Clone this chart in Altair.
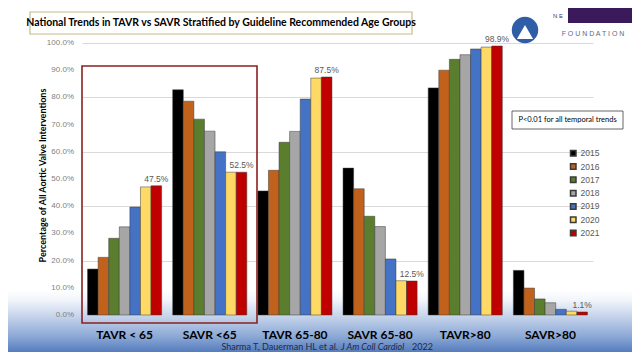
import altair as alt
import pandas as pd

categories = ["TAVR < 65", "SAVR <65", "TAVR 65-80", "SAVR 65-80", "TAVR>80", "SAVR>80"]
years = ["2015", "2016", "2017", "2018", "2019", "2020", "2021"]
tavr_lt65 = [16.9, 21.2, 28.2, 32.4, 39.7, 47.1, 47.5]
savr_lt65 = [82.8, 78.6, 72.0, 67.6, 60.0, 52.5, 52.5]
tavr_65_80 = [45.6, 53.2, 63.5, 67.5, 79.4, 87.1, 87.5]
savr_65_80 = [54.0, 46.4, 36.3, 32.5, 20.6, 12.6, 12.5]
tavr_gt80 = [83.5, 90.0, 94.0, 95.7, 97.8, 98.5, 98.9]
savr_gt80 = [16.4, 9.9, 5.9, 4.5, 2.1, 1.4, 1.1]
y_ticks = [0, 10, 20, 30, 40, 50, 60, 70, 80, 90, 100]
year_colors = ["#000000", "#C0621C", "#5A7D2E", "#A6A6A6", "#4472C4", "#FFD966", "#C00000"]

title_text = "National Trends in TAVR vs SAVR Stratified by Guideline Recommended Age Groups"
y_title = "Percentage of All Aortic Valve Interventions"
p_note = "P<0.01 for all temporal trends"
cite_a = "Sharma T, Dauerman HL et al."
cite_b = "J Am Coll Cardiol"
cite_c = "2022"

series = [tavr_lt65, savr_lt65, tavr_65_80, savr_65_80, tavr_gt80, savr_gt80]
rows = []
for cat, vals in zip(categories, series):
    for yr, v in zip(years, vals):
        rows.append({"category": cat, "year": yr, "value": v})
df = pd.DataFrame(rows)
tick_df = pd.DataFrame({"value": y_ticks})

FONT = "Lato"
W, H = 511, 272
one = alt.Data(values=[{"k": 1}])

x_enc = alt.X(
    "category:N", sort=categories,
    scale=alt.Scale(paddingInner=0.13, paddingOuter=0.065),
    axis=alt.Axis(title=None, labelFont=FONT, labelFontWeight="bold", labelFontSize=12,
                  labelColor="black", labelPadding=14, ticks=False, domain=False,
                  grid=False, labelAngle=0, zindex=2),
)
y_scale = alt.Scale(domain=[0, 100], nice=False)
y_enc = alt.Y(
    "value:Q", scale=y_scale,
    axis=alt.Axis(title=y_title, values=y_ticks, labels=False,
                  ticks=False, domain=False,
                  gridColor="#D9D9D9", gridWidth=1,
                  titleFont=FONT, titleFontSize=9, titleFontWeight="bold", titleColor="black",
                  titleAngle=270, titleX=-40, titleY=132, titleAlign="center",
                  titleBaseline="middle"),
)

grad = alt.LinearGradient(
    gradient="linear", x1=0, x2=0, y1=0, y2=1,
    stops=[alt.GradientStop(color="#FFFFFF", offset=0),
           alt.GradientStop(color="#F2F5FB", offset=0.16),
           alt.GradientStop(color="#C3D2EA", offset=0.44),
           alt.GradientStop(color="#8AA7D5", offset=0.76),
           alt.GradientStop(color="#557CBD", offset=1)],
)
bg = alt.Chart(one).mark_rect(color=grad).encode(
    x=alt.value(-74), x2=alt.value(550), y=alt.value(247), y2=alt.value(309))

bars = alt.Chart(df).mark_bar(stroke="#3A3A3A", strokeWidth=0.5).encode(
    x=x_enc,
    xOffset=alt.XOffset("year:N", sort=years, scale=alt.Scale(paddingInner=0, paddingOuter=0)),
    y=y_enc,
    color=alt.Color("year:N", sort=years, scale=alt.Scale(domain=years, range=year_colors),
                    legend=alt.Legend(title=None, orient="none", legendX=487, legendY=106,
                                      symbolType="square", symbolSize=30, labelFontSize=8.5,
                                      labelColor="#595959", labelFont="Liberation Sans",
                                      rowPadding=1.3, labelOffset=3)),
)

tick_labels = alt.Chart(tick_df).transform_calculate(
    lab="format(datum.value/100, '.1%')"
).mark_text(align="right", baseline="middle", fontSize=8, color="#7F7F7F",
            font="Liberation Sans").encode(
    x=alt.value(-8), y=alt.Y("value:Q", scale=y_scale), text="lab:N")

labels = alt.Chart(df).transform_filter(alt.datum.year == "2021").transform_calculate(
    lab="format(datum.value, '.1f') + '%'"
).mark_text(dy=-7, fontSize=8.5, color="#595959", font="Liberation Sans").encode(
    x=alt.X("category:N", sort=categories),
    xOffset=alt.XOffset("year:N", sort=years),
    y="value:Q",
    text="lab:N",
)

highlight = alt.Chart(one).mark_rect(fill="transparent", stroke="#8B2020", strokeWidth=1.6).encode(
    x=alt.value(0), x2=alt.value(175), y=alt.value(23), y2=alt.value(280))

title_box = alt.Chart(one).mark_rect(fill="white", stroke="#C8B88A", strokeWidth=1.2).encode(
    x=alt.value(-52), x2=alt.value(330), y=alt.value(-31), y2=alt.value(-9))
title = alt.Chart(one).mark_text(text=title_text, font=FONT, fontWeight="bold", fontSize=10.5,
                                 color="black").encode(x=alt.value(139), y=alt.value(-20))

p_box = alt.Chart(one).mark_rect(fill="white", stroke="#404040", strokeWidth=0.8).encode(
    x=alt.value(430), x2=alt.value(541), y=alt.value(68), y2=alt.value(86))
p_txt = alt.Chart(one).mark_text(text=p_note, font=FONT, fontSize=7.5,
                                 color="black").encode(x=alt.value(485.5), y=alt.value(77))

CY = 304
c1 = alt.Chart(one).mark_text(text=cite_a, font=FONT, fontSize=9, color="#1F2A44",
                              align="right").encode(x=alt.value(256), y=alt.value(CY))
c2 = alt.Chart(one).mark_text(text=cite_b, font=FONT, fontSize=9, color="#1F2A44",
                              fontStyle="italic", align="left").encode(x=alt.value(259), y=alt.value(CY))
c3 = alt.Chart(one).mark_text(text=cite_c, font=FONT, fontSize=9, color="#1F2A44",
                              align="left").encode(x=alt.value(330), y=alt.value(CY))

purple = alt.Chart(one).mark_rect(color="#3B1A5C").encode(
    x=alt.value(486), x2=alt.value(560), y=alt.value(-40), y2=alt.value(-20))
logo = alt.Chart(one).mark_point(shape="circle", filled=True, size=700, color="#2F5DA6",
                                 opacity=1).encode(x=alt.value(443), y=alt.value(-13))
logo2 = alt.Chart(one).mark_point(shape="triangle-up", filled=True, size=260, color="white",
                                  opacity=1).encode(x=alt.value(443), y=alt.value(-11))
found = alt.Chart(one).mark_text(text="F O U N D A T I O N", font="Liberation Sans", fontSize=7,
                                 color="#5A6A8A").encode(x=alt.value(511), y=alt.value(-9))
ne = alt.Chart(one).mark_text(text="N E", font="Liberation Sans", fontSize=6,
                              color="#3A3A5A", align="left").encode(x=alt.value(471), y=alt.value(-27))

chart = alt.layer(
    bg, bars, tick_labels, labels, highlight, title_box, title, p_box, p_txt, c1, c2, c3,
    purple, logo, logo2, found, ne
).properties(
    width=W, height=H,
    padding={"left": 74, "top": 35, "right": 39, "bottom": 37},
    autosize=alt.AutoSizeParams(type="none"),
    background="white",
).configure_view(stroke=None)

chart.save("out.html", embed_options={"renderer": "svg", "actions": False})
